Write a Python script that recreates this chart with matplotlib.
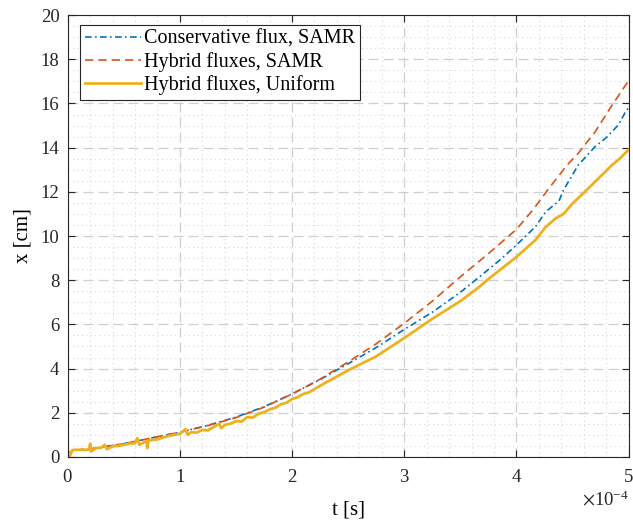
import matplotlib.pyplot as plt
from matplotlib.ticker import MultipleLocator, ScalarFormatter

# Data (time in units of 1e-4 s, position in cm)
t_cons = [0, 0.02, 0.04, 0.2, 0.5, 0.75, 1.0, 1.25, 1.5, 1.75, 2.0, 2.25, 2.5, 2.75,
          3.0, 3.25, 3.5, 3.67, 3.85, 4.0, 4.17, 4.26, 4.38, 4.42, 4.55, 4.7, 4.8,
          4.91, 4.97, 5.0]
x_cons = [0.3, 0.1, 0.3, 0.36, 0.6, 0.86, 1.12, 1.43, 1.8, 2.27, 2.85, 3.5, 4.22, 4.95,
          5.77, 6.55, 7.45, 8.15, 8.9, 9.59, 10.42, 11.09, 11.59, 12.08, 13.2, 14.04, 14.45,
          15.03, 15.6, 15.8]

t_hyb = [0, 0.02, 0.04, 0.2, 0.5, 0.75, 1.0, 1.25, 1.5, 1.75, 2.0, 2.25, 2.5, 2.75,
         3.0, 3.25, 3.5, 3.75, 4.0, 4.15, 4.29, 4.45, 4.55, 4.7, 4.85, 5.0]
x_hyb = [0.3, 0.1, 0.3, 0.36, 0.6, 0.86, 1.12, 1.42, 1.78, 2.25, 2.85, 3.52, 4.3, 5.12,
         6.05, 7.05, 8.15, 9.2, 10.3, 11.2, 12.16, 13.2, 13.74, 14.7, 15.9, 17.03]

t_uni = [0, 0.02, 0.04, 0.06, 0.1, 0.15, 0.19, 0.2, 0.21, 0.25, 0.3, 0.33, 0.35, 0.4,
         0.45, 0.5, 0.55, 0.6, 0.62, 0.64, 0.7, 0.71, 0.72, 0.75, 0.8, 0.85, 0.9, 0.95,
         1.0, 1.05, 1.07, 1.1, 1.15, 1.2, 1.25, 1.3, 1.35, 1.37, 1.4, 1.45, 1.5, 1.55,
         1.6, 1.65, 1.7, 1.75, 1.8, 1.85, 1.9, 1.95, 2.0, 2.05, 2.1, 2.15, 2.25, 2.5,
         2.75, 3.0, 3.25, 3.5, 3.67, 3.75, 4.0, 4.17, 4.26, 4.35, 4.42, 4.5, 4.6, 4.7,
         4.85, 4.92, 5.0]
x_uni = [0.3, 0.05, 0.3, 0.32, 0.32, 0.32, 0.33, 0.6, 0.25, 0.4, 0.42, 0.55, 0.35, 0.48,
         0.5, 0.55, 0.6, 0.62, 0.85, 0.55, 0.72, 0.4, 0.75, 0.76, 0.8, 0.88, 0.95, 1.0,
         1.05, 1.25, 1.0, 1.12, 1.1, 1.22, 1.2, 1.35, 1.5, 1.3, 1.45, 1.5, 1.62, 1.6,
         1.8, 1.78, 1.95, 2.02, 2.15, 2.22, 2.38, 2.45, 2.62, 2.7, 2.85, 2.92, 3.22, 3.92,
         4.55, 5.38, 6.25, 7.05, 7.7, 8.05, 9.05, 9.82, 10.4, 10.8, 11.0, 11.47, 11.95, 12.45,
         13.2, 13.5, 13.9]

labels = ['Conservative flux, SAMR', 'Hybrid fluxes, SAMR', 'Hybrid fluxes, Uniform']

plt.rcParams['font.family'] = ['Liberation Serif', 'DejaVu Serif']
plt.rcParams['mathtext.fontset'] = 'stix'

fig = plt.figure(figsize=(6.33, 5.21), dpi=100)
ax = fig.add_axes([0.107, 0.123, 0.886, 0.848])

ax.plot([v * 1e-4 for v in t_cons], x_cons, linestyle=(0, (4, 2, 1, 2)), color='#0072BD', lw=1.2, label=labels[0])
ax.plot([v * 1e-4 for v in t_hyb], x_hyb, linestyle=(0, (5, 3)), color='#D95319', lw=1.2, label=labels[1])
ax.plot([v * 1e-4 for v in t_uni], x_uni, linestyle='-', color='#EDB120', lw=2.0, label=labels[2])

ax.set_xlim(0, 5e-4)
ax.set_ylim(0, 20)
ax.xaxis.set_major_locator(MultipleLocator(1e-4))
ax.xaxis.set_minor_locator(MultipleLocator(0.2e-4))
ax.yaxis.set_major_locator(MultipleLocator(2))
ax.yaxis.set_minor_locator(MultipleLocator(0.5))

fmt = ScalarFormatter(useMathText=True)
fmt.set_powerlimits((0, 0))
ax.xaxis.set_major_formatter(fmt)
ax.xaxis.get_offset_text().set_fontsize(13.5)

ax.grid(True, which='major', color='#cfcfcf', linestyle=(0, (8, 4)), lw=0.9)
ax.grid(True, which='minor', color='#d8d8d8', linestyle=(0, (1, 3)), lw=0.8)
ax.set_axisbelow(True)

ax.tick_params(which='major', direction='in', top=True, right=True, length=5,
               width=0.8, labelsize=13.5, colors='#262626')
ax.tick_params(axis='x', which='major', pad=9)
ax.tick_params(axis='y', which='major', pad=6)
ax.tick_params(which='minor', length=0)
for s in ax.spines.values():
    s.set_color('#262626')
    s.set_linewidth(0.8)

ax.set_xlabel('t [s]', fontsize=15, labelpad=10)
ax.set_ylabel('x [cm]', fontsize=15, labelpad=6)

leg = ax.legend(loc='upper left', bbox_to_anchor=(0.021, 0.978), fontsize=14.5,
                fancybox=False, edgecolor='#262626', framealpha=1,
                handlelength=2.8, borderpad=0.25, labelspacing=0.15, handletextpad=0.15,
                borderaxespad=0)
leg.get_frame().set_linewidth(0.8)

fig.savefig('out.png', dpi=100)
